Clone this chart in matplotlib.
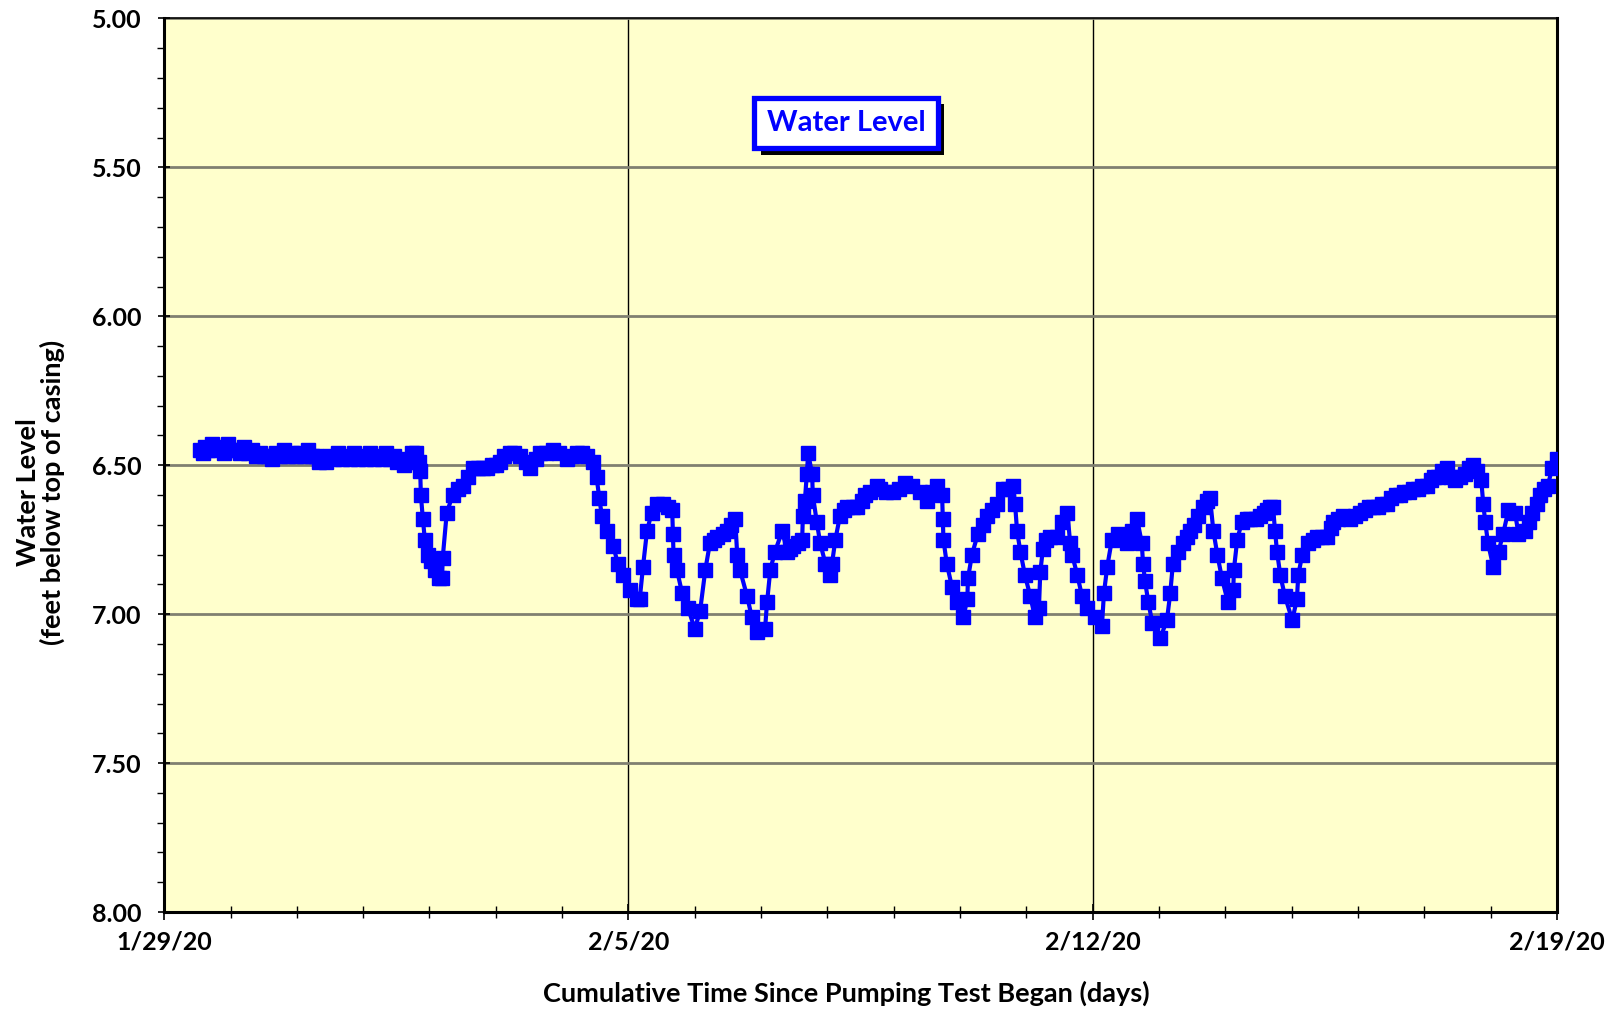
import matplotlib
matplotlib.use('Agg')
import matplotlib.pyplot as plt
import matplotlib.dates as mdates
import matplotlib.patheffects as pe
from matplotlib.ticker import MultipleLocator, FormatStrFormatter, FixedLocator
import pandas as pd

plt.rcParams['font.family'] = ['Lato', 'DejaVu Sans']

# ---- data: days since 1/29/20 00:00 and water level (ft below top of casing)
days = [
    0.54, 0.58, 0.61, 0.66, 0.72, 0.78, 0.84, 0.90, 0.96, 1.02, 1.08, 1.14, 1.20,
    1.26, 1.32, 1.38, 1.44, 1.50, 1.56, 1.62, 1.68, 1.74, 1.80, 1.86, 1.93, 1.99,
    2.05, 2.11, 2.17, 2.23, 2.29, 2.34, 2.38, 2.44, 2.50, 2.56, 2.62, 2.68, 2.74,
    2.80, 2.86, 2.92, 2.98, 3.04, 3.10, 3.16, 3.22, 3.28, 3.34, 3.40, 3.46, 3.51,
    3.56, 3.62, 3.68, 3.74, 3.80, 3.84, 3.86, 3.87, 3.90, 3.93, 3.98, 4.02, 4.08,
    4.14, 4.19, 4.20, 4.26, 4.35, 4.43, 4.51, 4.58, 4.66, 4.73, 4.80, 4.87, 4.94,
    5.00, 5.06, 5.13, 5.21, 5.28, 5.37, 5.45, 5.52, 5.60, 5.67, 5.75, 5.86, 5.95,
    6.07, 6.15, 6.22, 6.30, 6.37, 6.46, 6.52, 6.56, 6.60, 6.68, 6.77, 6.84, 6.92,
    7.02, 7.13, 7.17, 7.22, 7.28, 7.35, 7.43, 7.52, 7.59, 7.66, 7.67, 7.68, 7.73,
    7.81, 7.90, 8.00, 8.08, 8.16, 8.23, 8.29, 8.34, 8.42, 8.49, 8.55, 8.61, 8.64,
    8.68, 8.79, 8.86, 8.94, 9.06, 9.09, 9.14, 9.21, 9.32, 9.39, 9.44, 9.48, 9.55,
    9.62, 9.63, 9.66, 9.69, 9.71, 9.77, 9.78, 9.84, 9.89, 9.97, 10.04, 10.07,
    10.12, 10.19, 10.25, 10.30, 10.38, 10.45, 10.52, 10.57, 10.65, 10.75, 10.79,
    10.88, 10.99, 11.08, 11.17, 11.28, 11.40, 11.50, 11.58, 11.65, 11.73, 11.74,
    11.75, 11.80, 11.88, 11.96, 12.05, 12.11, 12.12, 12.18, 12.27, 12.34, 12.41,
    12.48, 12.56, 12.65, 12.72, 12.80, 12.83, 12.86, 12.91, 12.98, 13.06, 13.13,
    13.19, 13.21, 13.25, 13.30, 13.36, 13.46, 13.54, 13.62, 13.66, 13.69, 13.77,
    13.84, 13.92, 14.04, 14.14, 14.17, 14.22, 14.29, 14.38, 14.45, 14.52, 14.59,
    14.67, 14.74, 14.76, 14.79, 14.84, 14.90, 15.02, 15.12, 15.17, 15.21, 15.29,
    15.36, 15.42, 15.47, 15.53, 15.59, 15.66, 15.73, 15.77, 15.82, 15.88, 15.95,
    16.04, 16.12, 16.13, 16.18, 16.25, 16.32, 16.38, 16.46, 16.53, 16.58, 16.63,
    16.68, 16.72, 16.75, 16.78, 16.83, 16.90, 17.01, 17.08, 17.10, 17.16, 17.25,
    17.32, 17.39, 17.46, 17.54, 17.60, 17.63, 17.70, 17.78, 17.88, 17.95, 18.03,
    18.10, 18.16, 18.23, 18.30, 18.37, 18.44, 18.50, 18.57, 18.64, 18.70, 18.77,
    18.83, 18.90, 18.97, 19.04, 19.10, 19.15, 19.20, 19.27, 19.35, 19.41, 19.47,
    19.54, 19.62, 19.68, 19.74, 19.80, 19.86, 19.89, 19.92, 19.96, 20.04, 20.12,
    20.19, 20.27, 20.37, 20.42, 20.52, 20.58, 20.63, 20.70, 20.75, 20.81, 20.86,
    20.93, 21.00,
]
levels = [
    6.45, 6.46, 6.44, 6.45, 6.43, 6.45, 6.44, 6.46, 6.43, 6.45, 6.45, 6.46, 6.44,
    6.46, 6.45, 6.47, 6.46, 6.47, 6.47, 6.48, 6.46, 6.47, 6.45, 6.47, 6.46, 6.47,
    6.46, 6.47, 6.45, 6.47, 6.47, 6.49, 6.48, 6.49, 6.47, 6.48, 6.46, 6.48, 6.47,
    6.48, 6.46, 6.48, 6.47, 6.48, 6.46, 6.48, 6.47, 6.48, 6.46, 6.48, 6.47, 6.49,
    6.48, 6.50, 6.49, 6.46, 6.46, 6.49, 6.52, 6.60, 6.68, 6.75, 6.80, 6.82, 6.85,
    6.88, 6.88, 6.81, 6.66, 6.60, 6.58, 6.57, 6.54, 6.51, 6.51, 6.51, 6.51, 6.50,
    6.50, 6.49, 6.47, 6.46, 6.46, 6.47, 6.49, 6.51, 6.48, 6.46, 6.46, 6.45, 6.46,
    6.48, 6.47, 6.46, 6.46, 6.47, 6.49, 6.54, 6.61, 6.67, 6.72, 6.77, 6.83, 6.87,
    6.92, 6.95, 6.95, 6.84, 6.72, 6.66, 6.63, 6.63, 6.64, 6.65, 6.73, 6.80, 6.85,
    6.93, 6.98, 7.05, 6.99, 6.85, 6.76, 6.75, 6.74, 6.73, 6.72, 6.70, 6.68, 6.80,
    6.85, 6.94, 7.01, 7.06, 7.05, 6.96, 6.85, 6.79, 6.72, 6.79, 6.78, 6.77, 6.76,
    6.75, 6.67, 6.62, 6.53, 6.46, 6.53, 6.60, 6.69, 6.76, 6.83, 6.87, 6.83,
    6.75, 6.67, 6.65, 6.64, 6.64, 6.64, 6.62, 6.60, 6.59, 6.57, 6.58,
    6.59, 6.59, 6.58, 6.56, 6.57, 6.59, 6.62, 6.59, 6.57, 6.60, 6.68,
    6.75, 6.83, 6.91, 6.96, 7.01, 6.95, 6.88, 6.80, 6.73, 6.70, 6.67,
    6.65, 6.63, 6.58, 6.58, 6.57, 6.63, 6.72, 6.79, 6.87, 6.94, 7.01,
    6.98, 6.86, 6.78, 6.75, 6.74, 6.74, 6.69, 6.66, 6.76, 6.80, 6.87,
    6.94, 6.98, 7.01, 7.04, 6.93, 6.84, 6.75, 6.73, 6.74, 6.76, 6.72,
    6.68, 6.76, 6.83, 6.89, 6.96, 7.03, 7.08, 7.02, 6.93, 6.83, 6.79,
    6.76, 6.74, 6.72, 6.70, 6.67, 6.64, 6.62, 6.61, 6.72, 6.80, 6.88,
    6.96, 6.92, 6.85, 6.75, 6.69, 6.68, 6.68, 6.68, 6.67, 6.66, 6.65,
    6.64, 6.64, 6.72, 6.79, 6.87, 6.94, 7.02, 6.95, 6.87, 6.80, 6.76,
    6.75, 6.74, 6.74, 6.74, 6.71, 6.69, 6.68, 6.67, 6.68, 6.67, 6.66,
    6.65, 6.64, 6.64, 6.64, 6.63, 6.63, 6.61, 6.60, 6.60, 6.59, 6.59,
    6.58, 6.58, 6.57, 6.57, 6.55, 6.54, 6.54, 6.52, 6.51, 6.54, 6.55,
    6.54, 6.53, 6.51, 6.50, 6.52, 6.55, 6.63, 6.69, 6.76, 6.84, 6.79,
    6.73, 6.65, 6.66, 6.73, 6.72, 6.69, 6.66, 6.63, 6.60, 6.58, 6.57,
    6.51, 6.48,
]

start_date = '2020-01-29'
x_tick_dates = ['2020-01-29', '2020-02-05', '2020-02-12', '2020-02-19']
y_min, y_max = 5.0, 8.0
series_label = 'Water Level'
x_label = 'Cumulative Time Since Pumping Test Began (days)'
y_label = 'Water Level\n(feet below top of casing)'

start = pd.Timestamp(start_date)
times = start + pd.to_timedelta(days, unit='D')

fig = plt.figure(figsize=(16.1, 10.1), dpi=100)
ax = fig.add_axes([0.102, 0.097, 0.865, 0.8847])
ax.set_facecolor('#FFFFCC')

ax.plot(times, levels, color='#0000FF', lw=3.0, marker='s', ms=9.5,
        mec='#0000FF', mfc='#0000FF', zorder=3, label=series_label)

# x axis
ax.set_xlim(pd.Timestamp(x_tick_dates[0]), pd.Timestamp(x_tick_dates[-1]))
ax.xaxis.set_major_locator(FixedLocator(mdates.date2num(pd.to_datetime(x_tick_dates))))
ax.xaxis.set_minor_locator(mdates.DayLocator())
ax.xaxis.set_major_formatter(mdates.DateFormatter('%-m/%-d/%y'))

# y axis (inverted)
ax.set_ylim(y_max, y_min)
ax.yaxis.set_major_locator(MultipleLocator(0.5))
ax.yaxis.set_minor_locator(MultipleLocator(0.1))
ax.yaxis.set_major_formatter(FormatStrFormatter('%.2f'))

# grid
ax.yaxis.grid(True, which='major', color='#808070', lw=2.0, zorder=1)
ax.xaxis.grid(True, which='major', color='black', lw=1.0, zorder=1)
ax.set_axisbelow(True)

# spines
for s in ['left', 'bottom', 'right']:
    ax.spines[s].set_linewidth(2.2)
    ax.spines[s].set_color('black')
ax.spines['top'].set_linewidth(1.2)
ax.spines['top'].set_color('black')

ax.tick_params(axis='y', which='major', direction='inout', length=9, width=1.2,
               pad=12, labelsize=18)
ax.tick_params(axis='y', which='minor', direction='out', length=5, width=1.0)
ax.tick_params(axis='x', which='major', direction='inout', length=11, width=1.2,
               pad=8, labelsize=18)
ax.tick_params(axis='x', which='minor', direction='inout', length=9, width=1.0)
for lab in ax.get_xticklabels() + ax.get_yticklabels():
    lab.set_fontweight('bold')

ax.set_xlabel(x_label, fontsize=19.5, fontweight='bold', va='top')
ax.xaxis.set_label_coords(0.49, -0.077)
ax.set_ylabel(y_label, fontsize=19.5, fontweight='bold', linespacing=1.0)
ax.yaxis.set_label_coords(-0.071, 0.47)

# legend-style box with hard black shadow
txt = ax.text(0.4895, 0.883, series_label, transform=ax.transAxes,
              fontsize=21, fontweight='bold', color='#0000FF', ha='center', va='center',
              bbox=dict(boxstyle='square,pad=0.42', fc='white', ec='#0000FF', lw=3.8),
              zorder=6)
txt.get_bbox_patch().set_path_effects([
    pe.SimplePatchShadow(offset=(4.5, -4.5), shadow_rgbFace='black', alpha=1.0),
    pe.Normal(),
])

fig.savefig('out.png', dpi=100)
